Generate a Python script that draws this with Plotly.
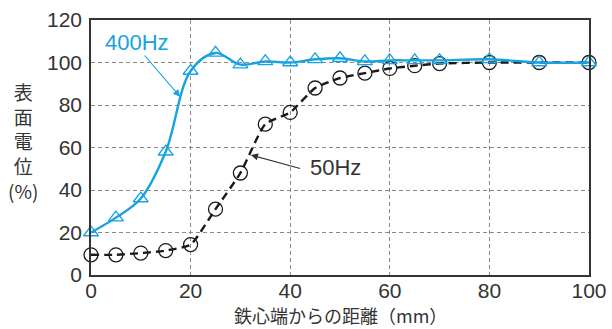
import plotly.graph_objects as go

x_400 = [0, 5, 10, 15, 20, 25, 30, 35, 40, 45, 50, 55, 60, 65, 70, 80, 90, 100]
y_400 = [20, 27, 36, 58, 96, 104.5, 99, 100.5, 100, 101.5, 102, 100.5, 101, 101, 101, 101.5, 100, 100]

x_50 = [0, 5, 10, 15, 20, 25, 30, 35, 40, 45, 50, 55, 60, 65, 70, 80, 90, 100]
y_50 = [9.5, 9.5, 10.3, 11.5, 14.3, 31, 48, 71, 76.5, 88, 92.7, 95, 97.2, 98.5, 99.5, 100, 100, 100]

x_ticks = [0, 20, 40, 60, 80, 100]
y_ticks = [0, 20, 40, 60, 80, 100, 120]

BLUE = "#17a3e0"
CJK = "Noto Sans CJK JP"
NUM = "Liberation Sans"

fig = go.Figure()
fig.add_trace(go.Scatter(
    x=x_50, y=y_50, mode="lines+markers", cliponaxis=False,
    line=dict(color="#1a1a1a", width=2.4, dash="8px,5px", shape="spline", smoothing=0.5),
    marker=dict(symbol="circle-open", size=14, color="#1a1a1a", line=dict(width=1.3)),
    showlegend=False,
))
fig.add_trace(go.Scatter(
    x=x_400, y=y_400, mode="lines+markers", cliponaxis=False,
    line=dict(color=BLUE, width=2.4, shape="spline", smoothing=1.0),
    marker=dict(symbol="triangle-up-open", size=13, color=BLUE, line=dict(width=1.3)),
    showlegend=False,
))

axis_common = dict(
    showline=True, linecolor="#333333", linewidth=1.5, mirror=True,
    showgrid=True, gridcolor="#8a8a8a", gridwidth=1, griddash="4px,3px",
    zeroline=False, ticks="", automargin=False,
    tickfont=dict(family=NUM, size=21, color="#333333"),
)
fig.update_xaxes(range=[0, 100], tickvals=x_ticks, ticklabelstandoff=-4, **axis_common)
fig.update_yaxes(range=[0, 120], tickvals=y_ticks, ticklabelstandoff=3, **axis_common)

fig.add_annotation(x=9.2, y=109.2, xref="x", yref="y", text="400Hz", showarrow=False,
                   font=dict(family=NUM, size=22, color=BLUE))
fig.add_annotation(x=17.9, y=83.9, ax=10.5, ay=104, xref="x", yref="y", axref="x", ayref="y",
                   text="", showarrow=True, arrowhead=2, arrowsize=1.3, arrowwidth=1.1,
                   arrowcolor=BLUE, standoff=0, startstandoff=0)
fig.add_annotation(x=43.6, y=50.4, xref="x", yref="y", text="50Hz", showarrow=False,
                   xanchor="left", font=dict(family=NUM, size=22, color="#333333"))
fig.add_annotation(x=32.1, y=56.5, ax=42.3, ay=49.9, xref="x", yref="y", axref="x", ayref="y",
                   text="", showarrow=True, arrowhead=2, arrowsize=1.3, arrowwidth=1.1,
                   arrowcolor="#333333", standoff=0, startstandoff=0)

fig.add_annotation(x=22.5, y=141, xref="paper", yref="paper", text="表<br>面<br>電<br>位<br>(%)",
                   showarrow=False, xanchor="center", yanchor="middle",
                   font=dict(family=CJK, size=19, color="#333333"))
fig.add_annotation(x=340, y=315.5, xref="paper", yref="paper", text="鉄心端からの距離（mm）",
                   showarrow=False, xanchor="center", yanchor="middle",
                   font=dict(family=CJK, size=18, color="#333333"))

fig.update_layout(
    width=612, height=329,
    margin=dict(l=91, r=23, t=20, b=54),
    paper_bgcolor="white", plot_bgcolor="white",
)

# convert pixel positions for axis-title annotations to paper coords
pw, ph = 612 - 91 - 23, 329 - 20 - 54
for ann in fig.layout.annotations:
    if ann.xref == "paper":
        px, py = ann.x, ann.y
        ann.x = (px - 91) / pw
        ann.y = (329 - 54 - py) / ph

fig.write_html("out.html", config={"displayModeBar": False, "responsive": False},
               post_script="document.body.style.margin='0';document.body.style.overflow='hidden';")
